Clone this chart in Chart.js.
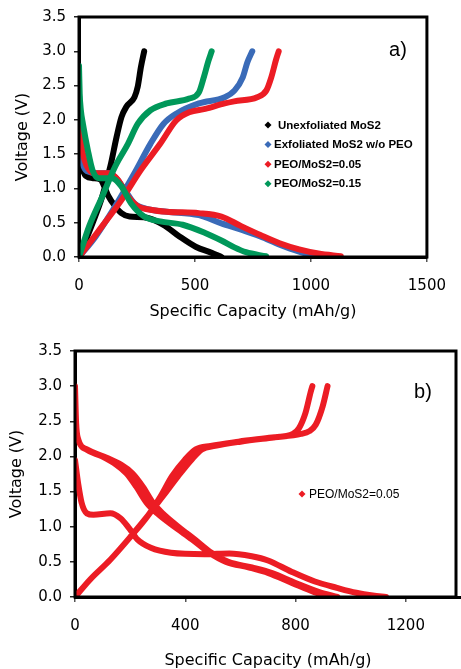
<!DOCTYPE html>
<html>
<head>
<meta charset="utf-8">
<script src="https://cdn.jsdelivr.net/npm/chart.js@4.4.1/dist/chart.umd.min.js"></script>
<style>
  body { margin: 0; background: #fff; }
  canvas { display: block; }
</style>
</head>
<body>
<canvas id="chartA" width="461" height="320"></canvas>
<canvas id="chartB" width="461" height="349"></canvas>
<script>
// panel a) - specific capacity (mAh/g) and voltage (V), discharge then charge
const blackDisCap = [0, 3, 8, 14, 30, 60, 93, 110, 125, 156, 183, 218, 280, 364, 433, 503, 572, 614]
const blackDisV = [2.25, 1.8, 1.5, 1.32, 1.18, 1.15, 1.13, 1.02, 0.9, 0.74, 0.64, 0.59, 0.58, 0.47, 0.3, 0.15, 0.06, 0]
const blackChgCap = [0, 58, 100, 135, 162, 183, 204, 239, 253, 267, 281]
const blackChgV = [0, 0.49, 0.88, 1.32, 1.75, 2.04, 2.19, 2.33, 2.48, 2.77, 3.0]

const blueDisCap = [0, 3, 8, 20, 45, 90, 130, 160, 197, 239, 308, 378, 517, 614, 699, 782, 865, 949, 1032, 1060]
const blueDisV = [2.38, 1.9, 1.55, 1.32, 1.24, 1.22, 1.22, 1.15, 0.98, 0.78, 0.69, 0.66, 0.61, 0.49, 0.4, 0.3, 0.18, 0.08, 0.01, 0]
const blueChgCap = [0, 72, 156, 239, 308, 364, 419, 517, 628, 671, 706, 726, 747]
const blueChgV = [0, 0.3, 0.74, 1.22, 1.65, 1.94, 2.09, 2.24, 2.33, 2.43, 2.62, 2.84, 3.0]

const redDisCap = [0, 10, 24, 44, 72, 128, 169, 211, 253, 308, 378, 517, 614, 699, 782, 865, 949, 1032, 1129]
const redDisV = [1.94, 1.65, 1.41, 1.27, 1.22, 1.22, 1.12, 0.88, 0.74, 0.69, 0.66, 0.64, 0.59, 0.45, 0.32, 0.2, 0.11, 0.05, 0.01]
const redChgCap = [0, 100, 183, 267, 350, 419, 475, 544, 628, 669, 768, 808, 829, 849, 861]
const redChgV = [0, 0.45, 0.83, 1.27, 1.65, 1.99, 2.11, 2.16, 2.24, 2.27, 2.33, 2.43, 2.62, 2.87, 3.0]

const greenDisCap = [0, 3, 8, 17, 38, 58, 86, 142, 183, 225, 281, 350, 447, 544, 614, 670, 720, 807]
const greenDisV = [2.79, 2.38, 2.14, 1.94, 1.56, 1.27, 1.15, 1.15, 1.03, 0.78, 0.59, 0.52, 0.47, 0.35, 0.24, 0.14, 0.07, 0.01]
const greenChgCap = [0, 44, 100, 156, 211, 253, 308, 378, 475, 517, 538, 558, 572]
const greenChgV = [0, 0.45, 0.88, 1.32, 1.65, 1.94, 2.14, 2.24, 2.31, 2.4, 2.62, 2.86, 3.0]

// panel b) - PEO/MoS2=0.05 over several cycles
const cyc1DisCap = [0, 5, 12, 24, 43, 67, 128, 165, 196, 226, 275, 348, 470, 560, 641, 700, 785, 870, 950, 1020, 1080, 1128]
const cyc1DisV = [1.95, 1.8, 1.6, 1.34, 1.19, 1.17, 1.19, 1.12, 0.98, 0.82, 0.7, 0.63, 0.61, 0.62, 0.58, 0.52, 0.36, 0.22, 0.13, 0.06, 0.02, 0]
const cyc2DisCap = [0, 4, 12, 43, 104, 168, 208, 246, 283, 318, 375, 434, 495, 556, 642, 715, 800, 886, 952]
const cyc3DisCap = [0, 4, 12, 40, 98, 150, 186, 222, 260, 298, 360, 424, 487, 548, 632, 702, 787, 868, 935]
const cycDisV = [3.0, 2.48, 2.24, 2.1, 2.0, 1.88, 1.76, 1.57, 1.34, 1.19, 1.0, 0.82, 0.63, 0.5, 0.42, 0.34, 0.2, 0.07, 0]
const chgACap = [0, 55, 128, 202, 263, 310, 352, 398, 438, 492, 593, 715, 790, 812, 836, 855, 861]
const chgAV = [0, 0.25, 0.53, 0.86, 1.15, 1.43, 1.72, 1.95, 2.1, 2.15, 2.21, 2.27, 2.32, 2.4, 2.62, 2.92, 3.0]
const chgBCap = [0, 55, 128, 202, 263, 318, 374, 422, 460, 508, 600, 720, 820, 850, 873, 898, 916]
const chgBV = [0, 0.25, 0.53, 0.86, 1.15, 1.43, 1.72, 1.95, 2.1, 2.15, 2.21, 2.27, 2.32, 2.36, 2.45, 2.71, 3.0]

const labelsA = ['Unexfoliated MoS2', 'Exfoliated MoS2 w/o PEO', 'PEO/MoS2=0.05', 'PEO/MoS2=0.15']
const colorsA = ['#000000', '#3a6bb8', '#ec1c24', '#00985a']
const ticksFont = { family: 'DejaVu Sans', size: 15 }
const titleFont = { family: 'DejaVu Sans', size: 16, lineHeight: 1 }

// join curves into one series, a null point breaks the line between them
const joinCurves = (...curves) => {
    const pts = []
    curves.forEach(([caps, volts], i) => {
        if (i > 0) pts.push({ x: caps[0], y: null })
        caps.forEach((c, j) => pts.push({ x: c, y: volts[j] }))
    })
    return pts
}

const lineSet = (label, color, data, order) => ({
    label: label,
    data: data,
    borderColor: color,
    backgroundColor: color,
    borderWidth: 6,
    pointRadius: 0,
    borderCapStyle: 'round',
    borderJoinStyle: 'round',
    cubicInterpolationMode: 'monotone',
    spanGaps: false,
    order: order
})

const framePlugin = {
    id: 'frame',
    afterDatasetsDraw(chart, args, opts) {
        const { ctx, chartArea: a } = chart
        ctx.save()
        ctx.strokeStyle = '#000'
        ctx.lineWidth = 3
        ctx.strokeRect(a.left, a.top, a.right - a.left - opts.rightInset, a.bottom - a.top)
        ctx.fillStyle = '#000'
        ctx.font = opts.tagFont
        ctx.textAlign = 'center'
        ctx.textBaseline = 'middle'
        ctx.fillText(opts.tag, opts.tagX, opts.tagY)
        ctx.font = opts.legendFont
        ctx.textAlign = 'left'
        chart.data.datasets.forEach((ds, i) => {
            const x = opts.legendX
            const y = opts.legendY + i * opts.legendGap
            ctx.fillStyle = ds.borderColor
            ctx.beginPath()
            ctx.moveTo(x, y - 3.5)
            ctx.lineTo(x + 3.5, y)
            ctx.lineTo(x, y + 3.5)
            ctx.lineTo(x - 3.5, y)
            ctx.closePath()
            ctx.fill()
            ctx.fillStyle = '#000'
            ctx.fillText(ds.label, x + (i === 0 && opts.firstGap ? opts.firstGap : opts.textGap), y + 0.5)
        })
        ctx.restore()
    }
}

const makeOptions = (xMax, xStep, yAxisWidth, xAxisHeight, yTitlePad, pad, frame) => ({
    responsive: false,
    animation: false,
    devicePixelRatio: 1,
    layout: { padding: pad },
    plugins: { legend: { display: false }, tooltip: { enabled: false }, frame: frame },
    scales: {
        x: {
            type: 'linear',
            min: 0,
            max: xMax,
            afterBuildTicks: s => { s.ticks = s.ticks.filter(t => t.value % xStep === 0) },
            afterFit: s => { s.height = xAxisHeight },
            ticks: { stepSize: xStep, font: ticksFont, color: '#000', padding: 15, maxRotation: 0, callback: v => String(v) },
            grid: { drawOnChartArea: false, tickLength: 5, color: '#555', lineWidth: 1.5 },
            border: { display: true, color: '#000', width: 3 },
            title: { display: true, text: 'Specific Capacity (mAh/g)', font: titleFont, color: '#000', padding: 0 }
        },
        y: {
            type: 'linear',
            min: 0,
            max: 3.5,
            afterFit: s => { s.width = yAxisWidth },
            ticks: { stepSize: 0.5, font: ticksFont, color: '#000', padding: 8, callback: v => v.toFixed(1) },
            grid: { drawOnChartArea: false, tickLength: 5, color: '#222', lineWidth: 1.5 },
            border: { display: true, color: '#000', width: 3 },
            title: { display: true, text: 'Voltage (V)', font: titleFont, color: '#000', padding: { top: yTitlePad, bottom: 0 } }
        }
    }
})

const seriesA = [
    joinCurves([blackDisCap, blackDisV], [blackChgCap, blackChgV]),
    joinCurves([blueDisCap, blueDisV], [blueChgCap, blueChgV]),
    joinCurves([redDisCap, redDisV], [redChgCap, redChgV]),
    joinCurves([greenDisCap, greenDisV], [greenChgCap, greenChgV])
]
const drawOrder = [3, 2, 1, 0]

new Chart(document.getElementById('chartA'), {
    type: 'line',
    data: { datasets: seriesA.map((d, i) => lineSet(labelsA[i], colorsA[i], d, drawOrder[i])) },
    options: makeOptions(1500, 500, 79, 63, 15, { left: 0, right: 21, top: 16, bottom: 0 }, {
        tag: 'a)', tagX: 398, tagY: 50, tagFont: '20px "Liberation Sans"', rightInset: 0,
        legendX: 268, legendY: 125, legendGap: 19.6, textGap: 6, firstGap: 10,
        legendFont: 'bold 11.5px "Liberation Sans"'
    }),
    plugins: [framePlugin]
})

new Chart(document.getElementById('chartB'), {
    type: 'line',
    data: {
        datasets: [lineSet('PEO/MoS2=0.05', colorsA[2], joinCurves(
            [cyc1DisCap, cyc1DisV], [cyc2DisCap, cycDisV], [cyc3DisCap, cycDisV],
            [chgACap, chgAV], [chgBCap, chgBV]), 0)]
    },
    options: makeOptions(1400, 400, 75, 72, 9, { left: 0, right: 0, top: 31, bottom: 0 }, {
        tag: 'b)', tagX: 423, tagY: 72, tagFont: '20px "Liberation Sans"', rightInset: 5,
        legendX: 302, legendY: 174, legendGap: 20, textGap: 7,
        legendFont: '12px "Liberation Sans"'
    }),
    plugins: [framePlugin]
})
</script>
</body>
</html>
